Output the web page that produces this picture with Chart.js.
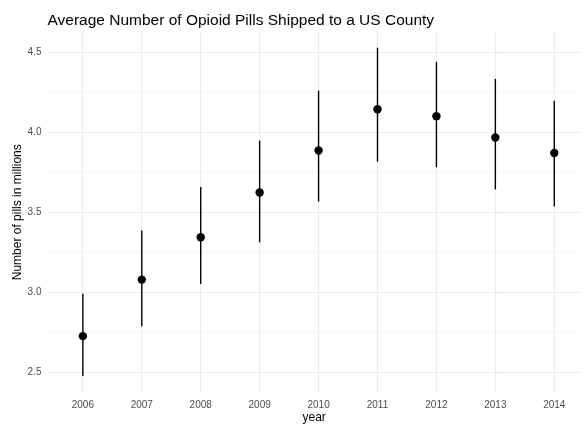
<!DOCTYPE html>
<html>
<head>
<meta charset="utf-8">
<script src="https://cdn.jsdelivr.net/npm/chart.js@4/dist/chart.umd.min.js"></script>
<style>
  html, body { margin: 0; padding: 0; background: #ffffff; }
  #wrap { width: 585px; height: 426px; }
</style>
</head>
<body>
<div id="wrap"><canvas id="c" width="585" height="426"></canvas></div>
<script>
// Average pills shipped per county (millions), with interval bounds
const years = [2006, 2007, 2008, 2009, 2010, 2011, 2012, 2013, 2014];
const meanPills = [2.728, 3.081, 3.345, 3.625, 3.887, 4.145, 4.101, 3.968, 3.871];
const lowerPills = [2.479, 2.790, 3.054, 3.314, 3.569, 3.817, 3.783, 3.644, 3.538];
const upperPills = [2.992, 3.387, 3.659, 3.949, 4.261, 4.529, 4.441, 4.334, 4.197];
const yMajorTicks = [2.5, 3.0, 3.5, 4.0, 4.5];
const yMinorTicks = [2.75, 3.25, 3.75, 4.25];

const titleText = 'Average Number of Opioid Pills Shipped to a US County';
const FONT = "'Liberation Sans', Arial, Helvetica, sans-serif";

// vertical interval lines behind the points
const rangeBars = {
  id: 'rangeBars',
  beforeDatasetsDraw(chart) {
    const { ctx, scales: { x, y } } = chart;
    ctx.save();
    ctx.strokeStyle = '#000000';
    ctx.lineWidth = 1.4;
    years.forEach((yr, i) => {
      const px = x.getPixelForValue(yr);
      ctx.beginPath();
      ctx.moveTo(px, y.getPixelForValue(lowerPills[i]));
      ctx.lineTo(px, y.getPixelForValue(upperPills[i]));
      ctx.stroke();
    });
    ctx.restore();
  }
};

// plot title, left-aligned with the plotting panel
const plotTitle = {
  id: 'plotTitle',
  afterDraw(chart) {
    const ctx = chart.ctx;
    ctx.save();
    ctx.fillStyle = '#000000';
    ctx.font = '15.5px ' + FONT;
    ctx.textAlign = 'left';
    ctx.textBaseline = 'alphabetic';
    ctx.fillText(titleText, chart.chartArea.left, 25);
    ctx.restore();
  }
};

const allYTicks = yMajorTicks.concat(yMinorTicks).sort((a, b) => a - b);
const isMajor = v => yMajorTicks.some(m => Math.abs(m - v) < 1e-9);

new Chart(document.getElementById('c'), {
  type: 'scatter',
  data: {
    datasets: [{
      data: years.map((yr, i) => ({ x: yr, y: meanPills[i] })),
      backgroundColor: '#000000',
      borderColor: '#000000',
      pointRadius: 4.2,
      pointBorderWidth: 0,
      pointHoverRadius: 4.2
    }]
  },
  options: {
    responsive: false,
    devicePixelRatio: 1,
    animation: false,
    events: [],
    layout: { padding: { top: 31.5, left: 0, right: 0, bottom: 0 } },
    plugins: {
      legend: { display: false },
      tooltip: { enabled: false },
      title: { display: false }
    },
    scales: {
      x: {
        type: 'linear',
        min: 2005.4,
        max: 2014.45,
        afterBuildTicks(scale) { scale.ticks = years.map(v => ({ value: v })); },
        afterFit(scale) { scale.height = 33; },
        ticks: {
          callback: v => String(v),
          color: '#4D4D4D',
          font: { family: FONT, size: 10 },
          padding: 6,
          maxRotation: 0,
          autoSkip: false
        },
        grid: { color: '#EBEBEB', lineWidth: 1.1, drawTicks: false },
        border: { display: false },
        title: {
          display: true,
          text: 'year',
          color: '#000000',
          font: { family: FONT, size: 12 },
          padding: { top: 0, bottom: 1 }
        }
      },
      y: {
        type: 'linear',
        min: 2.373,
        max: 4.63,
        afterBuildTicks(scale) { scale.ticks = allYTicks.map(v => ({ value: v })); },
        afterFit(scale) { scale.width = 47.5; },
        ticks: {
          callback: v => (isMajor(v) ? v.toFixed(1) : ''),
          color: '#4D4D4D',
          font: { family: FONT, size: 10 },
          padding: 6,
          autoSkip: false
        },
        grid: {
          color: ctx => (isMajor(ctx.tick.value) ? '#EBEBEB' : '#F3F3F3'),
          lineWidth: ctx => (isMajor(ctx.tick.value) ? 1.1 : 0.8),
          drawTicks: false
        },
        border: { display: false },
        title: {
          display: true,
          text: 'Number of pills in millions',
          color: '#000000',
          font: { family: FONT, size: 12 },
          padding: { top: 10, bottom: 0 }
        }
      }
    }
  },
  plugins: [rangeBars, plotTitle]
});
</script>
</body>
</html>
